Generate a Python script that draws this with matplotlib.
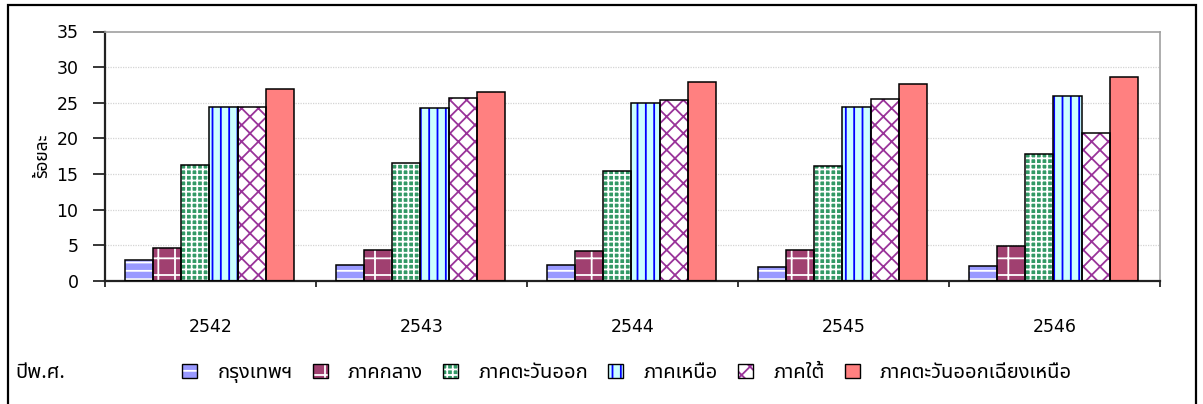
import matplotlib
matplotlib.use("Agg")
import matplotlib.pyplot as plt
import numpy as np
from matplotlib import font_manager, ft2font
from matplotlib.patches import Rectangle
from matplotlib.legend_handler import HandlerTuple

# ---- data -------------------------------------------------------------
years = ["2542", "2543", "2544", "2545", "2546"]
regions = ["กรุงเทพฯ", "ภาคกลาง", "ภาคตะวันออก", "ภาคเหนือ", "ภาคใต้",
           "ภาคตะวันออกเฉียงเหนือ"]
bangkok = [2.9, 2.3, 2.3, 1.9, 2.1]
central = [4.6, 4.4, 4.2, 4.4, 4.9]
east = [16.3, 16.6, 15.4, 16.1, 17.8]
north = [24.4, 24.2, 24.9, 24.4, 25.9]
south = [24.4, 25.7, 25.4, 25.5, 20.7]
northeast = [26.9, 26.5, 27.9, 27.7, 28.6]
series = [bangkok, central, east, north, south, northeast]

y_ticks = [0, 5, 10, 15, 20, 25, 30, 35]
y_label = "ร้อยละ"
x_title = "ปีพ.ศ."

# fill colour, hatch colour, hatch pattern for each region
styles = [
    ("#9999FF", "white", "--"),
    ("#A04070", "white", "+"),
    ("#339966", "white", "+++"),
    ("#CCFFFF", "#0000FF", "||"),
    ("white", "#993399", "xx"),
    ("#FF8080", None, None),
]


def thai_font():
    preferred = ["Tahoma", "Noto Sans Thai", "Noto Sans Thai UI", "Loma",
                 "Garuda", "Sarabun", "Tlwg Typo", "Umpush", "Waree",
                 "Kinnari", "Norasi"]
    found = []
    for f in font_manager.fontManager.ttflist:
        try:
            cmap = ft2font.FT2Font(f.fname).get_charmap()
        except Exception:
            continue
        if 0x0E01 in cmap and 0x0E49 in cmap:
            found.append(f.name)
    for name in preferred:
        if name in found:
            return name
    return found[0] if found else "DejaVu Sans"


THAI = thai_font()
FAMILY = [THAI, "DejaVu Sans"]

plt.rcParams["hatch.linewidth"] = 1.3

W, H = 1203, 404
fig = plt.figure(figsize=(W / 100, H / 100), dpi=100)
fig.patch.set_facecolor("white")

# outer chart frame
fig.patches.append(Rectangle((8 / W, -0.05), (1195.5 - 8) / W, 1.05 - 5 / H,
                             transform=fig.transFigure, fill=False,
                             edgecolor="black", linewidth=1.6, zorder=0))

ax = fig.add_axes([105 / W, 1 - 281 / H, (1160 - 105) / W, (281 - 31.5) / H])

n = len(series)
width = 0.8 / n
x = np.arange(len(years))
handles = []
for i, (vals, (fc, hc, hatch)) in enumerate(zip(series, styles)):
    pos = x + (i - (n - 1) / 2) * width - 0.005
    if hatch:
        ax.bar(pos, vals, width, facecolor=fc, edgecolor=hc, hatch=hatch,
               linewidth=0, zorder=2)
    else:
        ax.bar(pos, vals, width, facecolor=fc, linewidth=0, zorder=2)
    ax.bar(pos, vals, width, fill=False, edgecolor="black", linewidth=1.1,
           zorder=3)
    fill_h = Rectangle((0, 0), 1, 1, facecolor=fc,
                       edgecolor=hc if hc else fc, hatch=hatch, linewidth=0)
    edge_h = Rectangle((0, 0), 1, 1, fill=False, edgecolor="black",
                       linewidth=1.0)
    handles.append((fill_h, edge_h))

ax.set_xlim(-0.5, len(years) - 0.5)
ax.set_ylim(0, 35)
ax.set_yticks(y_ticks)
ax.set_yticklabels([str(v) for v in y_ticks], fontsize=12.5,
                   family="DejaVu Sans")
ax.tick_params(axis="y", direction="out", length=8.5, width=1.1,
               pad=10.5, colors="black")

ax.set_xticks(x)
ax.set_xticklabels(years, fontsize=12.5, family="DejaVu Sans")
ax.tick_params(axis="x", which="major", length=0, pad=27)
ax.set_xticks(np.arange(-0.5, len(years), 1.0), minor=True)
ax.tick_params(axis="x", which="minor", direction="out", length=4,
               width=1.1)

for y in y_ticks[1:-1]:
    ax.axhline(y, color="#D4D4D4", linewidth=0.9, linestyle=(0, (1, 1)),
               zorder=1)

for side in ("left", "bottom"):
    ax.spines[side].set_color("#222222")
    ax.spines[side].set_linewidth(1.6)
for side in ("top", "right"):
    ax.spines[side].set_color("#A0A0A0")
    ax.spines[side].set_linewidth(1.2)

ax.set_ylabel(y_label, family=FAMILY, fontsize=12.5, labelpad=4)

fig.text(15 / W, 1 - 373 / H, x_title, family=FAMILY, fontsize=14.5,
         ha="left", va="center")

leg = fig.legend(handles, regions, loc="center", ncol=6, frameon=False,
                 bbox_to_anchor=(627 / W, 1 - 373 / H),
                 handler_map={tuple: HandlerTuple(ndivide=1, pad=0)},
                 handlelength=0.75, handleheight=0.75, handletextpad=1.0,
                 columnspacing=1.0, prop={"family": FAMILY, "size": 14.5})

fig.savefig("out.png", dpi=100)
